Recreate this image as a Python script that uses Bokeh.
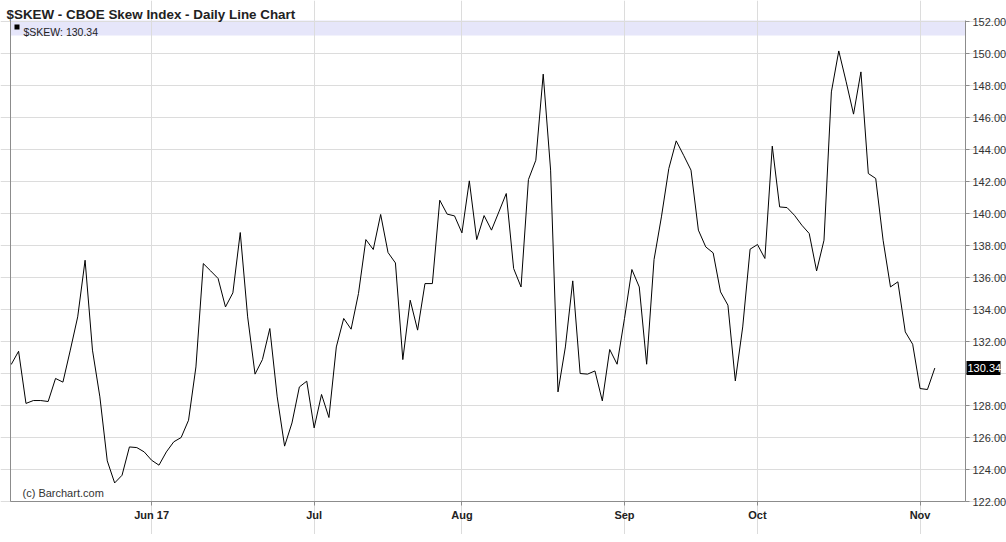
from bokeh.plotting import figure
from bokeh.models import (Range1d, FixedTicker, Label, BoxAnnotation,
                          PrintfTickFormatter, LinearAxis, Grid)
from bokeh.embed import file_html
from bokeh.resources import INLINE

# ---- data ----
skew_values = [
    130.56, 131.39, 128.13, 128.31, 128.31, 128.25, 129.69, 129.46, 131.46, 133.54,
    137.08, 131.46, 128.54, 124.54, 123.16, 123.64, 125.41, 125.37, 125.10, 124.58,
    124.27, 125.10, 125.73, 126.00, 127.08, 130.41, 136.87, 136.41, 135.94, 134.16,
    135.04, 138.81, 133.54, 129.96, 130.87, 132.81, 128.54, 125.46, 126.91, 129.16,
    129.52, 126.60, 128.69, 127.25, 131.66, 133.44, 132.77, 135.00, 138.37, 137.75,
    139.94, 137.56, 136.91, 130.87, 134.58, 132.71, 135.62, 135.62, 140.83, 139.96,
    139.85, 138.79, 142.04, 138.37, 139.87, 138.96, 140.10, 141.25, 136.56, 135.41,
    142.12, 143.33, 148.71, 142.71, 128.85, 131.66, 135.79, 130.00, 129.96, 130.16,
    128.29, 131.50, 130.58, 133.44, 136.50, 135.41, 130.58, 137.12, 139.79, 142.81,
    144.54, 143.64, 142.71, 138.96, 137.91, 137.54, 135.10, 134.27, 129.54, 132.91,
    137.77, 138.06, 137.19, 144.21, 140.41, 140.37, 139.89, 139.27, 138.75, 136.41,
    138.33, 147.60, 150.16, 148.23, 146.21, 148.85, 142.50, 142.19, 138.33, 135.41,
    135.73, 132.60, 131.83, 129.06, 129.00, 130.34,
]
day_index = list(range(len(skew_values)))
month_ticks = [19, 41, 61, 83, 101, 123]
month_labels = ["Jun 17", "Jul", "Aug", "Sep", "Oct", "Nov"]
price_ticks = list(range(122, 153, 2))
last_value = skew_values[-1]
symbol = "$SKEW"
title_text = "$SKEW - CBOE Skew Index - Daily Line Chart"

# ---- layout constants (pixels / plot extents) ----
FRAME_W, FRAME_H = 1006, 534
PX_PER_DAY, PX_PER_UNIT = 7.389, 16.0
X0 = -10.7 / PX_PER_DAY
X1 = X0 + FRAME_W / PX_PER_DAY
PLOT_LEFT = (10 - 10.7) / PX_PER_DAY
PLOT_RIGHT = (965 - 10.7) / PX_PER_DAY
Y0 = 122.0 - (FRAME_H - 501) / PX_PER_UNIT
Y_TOP = 122.0 + 501 / PX_PER_UNIT
PLOT_BOTTOM = 122.0
PLOT_TOP = 122.0 + (501 - 20) / PX_PER_UNIT

GRID = "#dcdcdc"
AXIS = "#8c8c8c"

p = figure(
    frame_width=FRAME_W, frame_height=FRAME_H,
    x_range=Range1d(X0, X1), y_range=Range1d(Y0, Y_TOP),
    y_axis_location=None, x_axis_location=None,
    output_backend="svg", toolbar_location=None,
    min_border_left=0, min_border_right=0, min_border_top=0, min_border_bottom=0,
    background_fill_color="white", border_fill_color="white",
)
p.outline_line_color = None
p.grid.visible = False

# legend band at top of plot
p.add_layout(BoxAnnotation(left=PLOT_LEFT, right=PLOT_RIGHT, bottom=151.12, top=PLOT_TOP,
                           fill_color="#e6e6fa", fill_alpha=1.0, line_color=None,
                           level="image"))

# grids limited to the chart box
vgrid = Grid(dimension=0, ticker=FixedTicker(ticks=month_ticks),
             grid_line_color=GRID, bounds=(PLOT_BOTTOM, PLOT_TOP))
hgrid = Grid(dimension=1, ticker=FixedTicker(ticks=price_ticks),
             grid_line_color=GRID, bounds=(PLOT_LEFT, PLOT_RIGHT))
p.add_layout(vgrid)
p.add_layout(hgrid)

# x axis, pinned at the chart box's bottom edge
xaxis = LinearAxis(ticker=FixedTicker(ticks=month_ticks), fixed_location=PLOT_BOTTOM,
                   bounds=(PLOT_LEFT, PLOT_RIGHT))
xaxis.major_label_overrides = dict(zip(month_ticks, month_labels))
xaxis.minor_tick_line_color = None
xaxis.major_tick_out = 4
xaxis.major_tick_in = 0
xaxis.major_label_standoff = 3
xaxis.axis_line_color = AXIS
xaxis.major_tick_line_color = AXIS
xaxis.major_label_text_font = "Liberation Sans"
xaxis.major_label_text_font_style = "bold"
xaxis.major_label_text_font_size = "11px"
xaxis.major_label_text_color = "#222222"
p.add_layout(xaxis, "below")

# right price axis, pinned at the chart box's right edge
yaxis = LinearAxis(ticker=FixedTicker(ticks=price_ticks),
                   formatter=PrintfTickFormatter(format="%.2f"),
                   fixed_location=PLOT_RIGHT, bounds=(PLOT_BOTTOM, PLOT_TOP))
yaxis.major_label_overrides = {130: ""}
yaxis.minor_tick_line_color = None
yaxis.major_tick_out = 4
yaxis.major_tick_in = 0
yaxis.major_label_standoff = 3
yaxis.axis_line_color = AXIS
yaxis.major_tick_line_color = AXIS
yaxis.major_label_text_font = "Liberation Sans"
yaxis.major_label_text_font_size = "11px"
yaxis.major_label_text_color = "#333333"
p.add_layout(yaxis, "right")

# left border line of the chart box (axis without ticks or labels)
left_axis = LinearAxis(ticker=FixedTicker(ticks=[]), fixed_location=PLOT_LEFT,
                       bounds=(PLOT_BOTTOM, PLOT_TOP))
left_axis.axis_line_color = AXIS
left_axis.major_tick_line_color = None
left_axis.minor_tick_line_color = None
left_axis.major_label_text_font_size = "0px"
p.add_layout(left_axis, "left")

p.line(day_index, skew_values, line_color="#000000", line_width=1.0)

# title
p.add_layout(Label(x=6, y=FRAME_H - 14, x_units="screen", y_units="screen",
                   text=title_text, text_font="Liberation Sans", text_font_style="bold",
                   text_font_size="13.4px", text_color="#222222", text_baseline="alphabetic"))

# legend marker and text
p.add_layout(BoxAnnotation(left=14, right=19, top=FRAME_H - 24, bottom=FRAME_H - 29,
                           left_units="screen", right_units="screen",
                           top_units="screen", bottom_units="screen",
                           fill_color="#000000", fill_alpha=1.0, line_color=None))
p.add_layout(Label(x=23, y=FRAME_H - 31, x_units="screen", y_units="screen",
                   text=f"{symbol}: {last_value:.2f}", text_font="Liberation Sans",
                   text_font_size="10.5px", text_color="#222222", text_baseline="alphabetic"))

# watermark
p.add_layout(Label(x=22, y=FRAME_H - 492, x_units="screen", y_units="screen",
                   text="(c) Barchart.com", text_font="Liberation Sans",
                   text_font_size="11px", text_color="#333333", text_baseline="alphabetic"))

# last price box on the axis
p.add_layout(BoxAnnotation(left=966, right=1000,
                           left_units="screen", right_units="screen",
                           bottom=last_value - 0.44, top=last_value + 0.44,
                           fill_color="#000000", fill_alpha=1.0, line_color=None))
p.add_layout(Label(x=967, y=last_value, x_units="screen", y_units="data",
                   text=f"{last_value:.2f}", text_font="Liberation Sans",
                   text_font_size="11px", text_color="#ffffff", text_baseline="middle"))

open("out.html", "w").write(file_html(p, INLINE))
